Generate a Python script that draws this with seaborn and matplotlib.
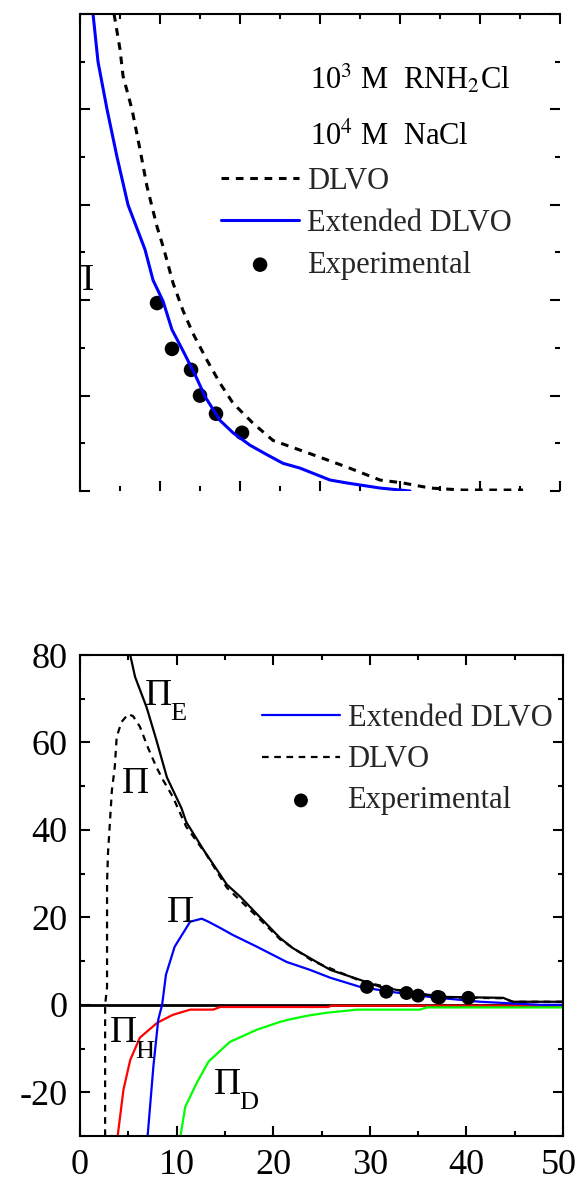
import numpy as np
import pandas as pd
import matplotlib
matplotlib.use("Agg")
import matplotlib.pyplot as plt
import matplotlib.transforms as mtransforms
from matplotlib.ticker import MultipleLocator
import seaborn as sns

# ---------------- data: top panel (arbitrary units, axis 0-60 x 0-50) ----------------
top_ext_x = [1.63, 2.25, 3.38, 4.63, 6.0, 8.13, 9.13, 10.38, 11.5, 12.75, 14.38, 15.63, 17.5,
             19.13, 21.25, 23.38, 25.38, 27.5, 31.25, 33.38, 37.5, 41.25]
top_ext_y = [50.0, 45.0, 40.0, 35.0, 30.0, 25.3, 22.1, 19.9, 16.9, 14.9, 12.2, 9.9, 7.4,
             6.1, 4.8, 3.8, 2.9, 2.4, 1.15, 0.84, 0.31, 0.0]
top_dlvo_x = [4.25, 4.38, 5.0, 5.38, 6.5, 7.5, 8.38, 9.63, 10.25, 10.63, 11.63, 12.88, 14.13,
              15.88, 17.5, 19.13, 21.63, 24.13, 27.13, 29.13, 33.38, 37.5, 40.38, 43.75,
              47.88, 55.38]
top_dlvo_y = [50.0, 49.4, 46.3, 43.5, 40.0, 35.8, 31.9, 27.7, 26.0, 24.9, 21.8, 18.9, 16.5,
              13.7, 11.3, 9.2, 7.1, 5.3, 4.4, 3.8, 2.5, 1.15, 0.84, 0.31, 0.1, 0.1]
top_exp_x = [9.63, 11.5, 13.88, 15.0, 17.0, 20.25]
top_exp_y = [19.7, 14.9, 12.7, 10.0, 8.1, 6.1]

# ---------------- data: bottom panel ----------------
pe_x = [5.2, 5.7, 6.9, 7.9, 9.0, 10.5, 11.0, 12.8, 15.2, 16.6, 18.6, 20.7, 22.0, 24.1, 25.9,
        29.0, 31.1, 34.5, 38.0, 43.8, 44.8, 50.0]
pe_y = [80.0, 75.0, 68.0, 60.6, 52.0, 45.0, 41.8, 35.4, 27.5, 24.7, 20.1, 15.3, 13.0, 10.3,
        8.0, 5.7, 4.1, 2.7, 1.8, 1.6, 0.7, 0.7]
dlvo_x = [2.6, 2.6, 2.8, 2.8, 2.9, 3.1, 3.3, 3.6, 3.8, 4.3, 5.0, 5.5, 6.2, 7.0, 7.9, 8.6, 9.6,
          11.0, 13.1, 15.2, 18.6, 20.7, 24.1, 29.0, 34.5, 38.0, 43.8, 44.8, 50.0]
dlvo_y = [-30.0, 0.0, 4.0, 28.0, 34.8, 41.8, 49.0, 54.4, 61.3, 64.7, 66.5, 66.0, 63.6, 59.0,
          54.4, 51.4, 47.6, 40.7, 34.3, 26.8, 19.6, 15.0, 10.0, 5.5, 2.6, 1.7, 1.5, 0.7, 0.7]
ext_x = [7.0, 7.6, 8.1, 8.5, 8.9, 9.8, 11.4, 12.6, 13.3, 14.5, 15.8, 18.3, 21.4, 23.8, 25.9,
         29.0, 32.1, 36.2, 41.4, 47.6, 50.0]
ext_y = [-30.0, -14.0, -3.4, 0.0, 6.9, 13.3, 19.0, 19.7, 19.0, 17.6, 16.0, 13.3, 9.8, 8.0,
         6.2, 4.1, 3.0, 1.8, 0.7, 0.0, 0.0]
ph_x = [3.9, 4.5, 5.2, 6.2, 8.0, 9.6, 11.4, 13.8, 14.5, 25.7, 26.0, 50.0]
ph_y = [-30.0, -19.4, -12.6, -7.5, -4.1, -2.3, -1.1, -1.1, -0.5, -0.5, -0.2, -0.2]
pd_x = [10.4, 10.9, 12.1, 13.3, 15.5, 18.3, 20.7, 21.6, 23.5, 25.6, 28.7, 35.2, 35.9, 50.0]
pd_y = [-30.0, -23.3, -17.8, -13.0, -8.5, -5.7, -3.9, -3.4, -2.5, -1.8, -1.1, -1.1, -0.6, -0.6]
exp_x = [29.7, 31.7, 33.8, 35.0, 37.0, 37.2, 40.2]
exp_y = [4.1, 3.0, 2.7, 2.1, 1.8, 1.7, 1.6]

x_ticks = [0, 10, 20, 30, 40, 50]
y_ticks = [-20, 0, 20, 40, 60, 80]

# ---------------- style ----------------
sns.set_theme(style="ticks")
plt.rcParams["font.family"] = ["Liberation Serif", "DejaVu Serif"]
plt.rcParams["mathtext.fontset"] = "stix"
plt.rcParams["axes.unicode_minus"] = False
plt.rcParams["axes.edgecolor"] = "black"
plt.rcParams["axes.linewidth"] = 1.5
plt.rcParams["xtick.color"] = "black"
plt.rcParams["ytick.color"] = "black"

BLUE = "#0000ff"
RED = "#ff0000"
GREEN = "#00ff00"
FS_LEG = 22
FS_TICK = 26
FS_PI = 27
FS_SUB = 19

W, H = 579, 1182
fig = plt.figure(figsize=(W / 100, H / 100), dpi=100)

def frac(l, t, r, b):
    return [l / W, 1 - b / H, (r - l) / W, (b - t) / H]

def style_ticks(ax, label_left, label_bottom):
    ax.tick_params(which="both", direction="in", top=True, right=True,
                   labelleft=label_left, labelbottom=label_bottom, color="black")
    ax.tick_params(which="major", length=7, width=1.5, pad=9, labelsize=FS_TICK)
    ax.tick_params(which="minor", length=3.5, width=1.5)

def pi_label(ax, x, y, sub=None):
    ax.text(x, y, "Π", fontsize=FS_PI, color="black")
    if sub:
        ax.annotate(sub, xy=(x, y), xytext=(18, -11), textcoords="offset points",
                    fontsize=FS_SUB, color="black", va="baseline", ha="left")

# ---------------- top panel ----------------
ax1 = fig.add_axes(frac(80, 14, 560, 491))
d_dl = pd.DataFrame({"x": top_dlvo_x, "y": top_dlvo_y})
d_ex = pd.DataFrame({"x": top_ext_x, "y": top_ext_y})
d_pt = pd.DataFrame({"x": top_exp_x, "y": top_exp_y})
sns.lineplot(data=d_dl, x="x", y="y", ax=ax1, color="black", lw=2.2, sort=False,
             estimator=None, linestyle=(0, (2.5, 2.2)), label="DLVO")
sns.lineplot(data=d_ex, x="x", y="y", ax=ax1, color=BLUE, lw=2.2, sort=False,
             estimator=None, label="Extended DLVO")
sns.scatterplot(data=d_pt, x="x", y="y", ax=ax1, color="black", s=110, edgecolor="none",
                label="Experimental")
ax1.set_xlim(0, 60)
ax1.set_ylim(0, 50)
ax1.xaxis.set_major_locator(MultipleLocator(10))
ax1.xaxis.set_minor_locator(MultipleLocator(5))
ax1.yaxis.set_major_locator(MultipleLocator(10))
ax1.yaxis.set_minor_locator(MultipleLocator(5))
style_ticks(ax1, False, False)
ax1.spines["right"].set_visible(False)
ax1.spines["bottom"].set_visible(False)
ax1.set_xlabel("")
ax1.set_ylabel("")
ax1.text(28.75, 42.2, "10$^3$ M  RNH$_2$Cl", fontsize=FS_LEG, color="black")
ax1.text(28.75, 36.3, "10$^4$ M  NaCl", fontsize=FS_LEG, color="black")
ax1.text(-1.7, 21.1, "Π", fontsize=FS_PI, color="black", clip_on=True)
ax1.legend(loc="upper left", bbox_to_anchor=(0.294, 1 - 153 / 477),
           frameon=False, fontsize=FS_LEG, handlelength=2.55, handletextpad=0.25,
           labelspacing=0.42, borderpad=0, borderaxespad=0)

# ---------------- bottom panel ----------------
ax2 = fig.add_axes(frac(80, 655, 563, 1136))
ax2.axhline(0, color="black", lw=2, zorder=1)
sns.lineplot(x=ph_x, y=ph_y, ax=ax2, color=RED, lw=1.6, sort=False, estimator=None)
sns.lineplot(x=pd_x, y=pd_y, ax=ax2, color=GREEN, lw=1.6, sort=False, estimator=None)
sns.lineplot(x=ext_x, y=ext_y, ax=ax2, color=BLUE, lw=1.6, sort=False, estimator=None,
             label="Extended DLVO")
sns.lineplot(x=dlvo_x, y=dlvo_y, ax=ax2, color="black", lw=1.6, sort=False, estimator=None,
             linestyle=(0, (3, 2.5)), label="DLVO")
sns.lineplot(x=pe_x, y=pe_y, ax=ax2, color="black", lw=1.6, sort=False, estimator=None)
sns.scatterplot(x=exp_x, y=exp_y, ax=ax2, color="black", s=100, edgecolor="none",
                label="Experimental", zorder=5)
ax2.set_xlim(0, 50)
ax2.set_ylim(-30, 80)
ax2.set_xticks(x_ticks)
ax2.set_yticks(y_ticks)
ax2.xaxis.set_minor_locator(MultipleLocator(5))
ax2.yaxis.set_minor_locator(MultipleLocator(10))
style_ticks(ax2, True, True)
ax2.set_xlabel("")
ax2.set_ylabel("")
pi_label(ax2, 6.7, 68.6, "E")
pi_label(ax2, 4.35, 48.5)
pi_label(ax2, 9.0, 19.0)
pi_label(ax2, 3.1, -8.6, "H")
pi_label(ax2, 13.9, -20.3, "D")
ax2.legend(loc="upper left", bbox_to_anchor=(182 / 483, 1 - 49 / 481),
           frameon=False, fontsize=FS_LEG, handlelength=2.55, handletextpad=0.25,
           labelspacing=0.4, borderpad=0, borderaxespad=0)

# keep the last x tick label inside the figure
last = ax2.get_xticklabels()[-1]
last.set_transform(last.get_transform() +
                   mtransforms.ScaledTranslation(-4 / 100, 0, fig.dpi_scale_trans))

fig.savefig("out.png", dpi=100)
